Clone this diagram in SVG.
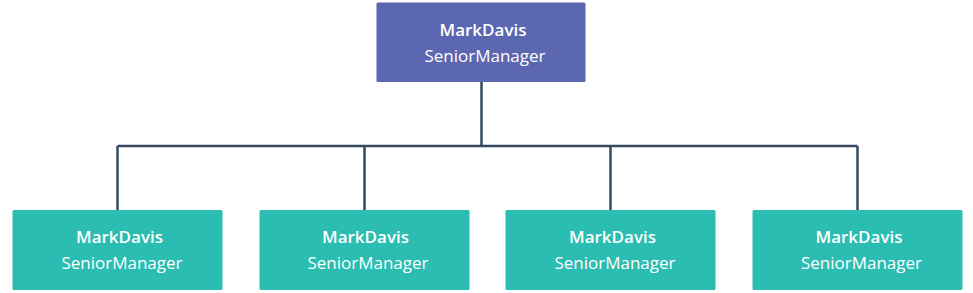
<svg xmlns="http://www.w3.org/2000/svg" width="973" height="293" viewBox="0 0 973 293">
<style>
.top{fill:#5b67b0}
.child{fill:#2bbdb1}
.name{font-family:"Open Sans","Noto Sans",sans-serif;font-weight:600;font-size:17px;fill:#fff;text-anchor:middle}
.role{font-family:"Open Sans","Noto Sans",sans-serif;font-size:17px;fill:#fff;text-anchor:middle}
.conn{fill:none;stroke:#34495e;stroke-width:2.5}
</style>
<rect width="973" height="293" fill="#fff"/>
<g id="connectors">
<path class="conn" d="M481.5 82V146M117.5 146H857.5M117.5 146V211M364.5 146V211M610.5 146V211M857.5 146V211"/>
</g>
<g id="n0"><rect class="top" x="376.5" y="2.5" width="209" height="79.5" rx="1.5"/><text class="name" x="483" y="36">MarkDavis</text><text class="role" x="485" y="61.5">SeniorManager</text></g>
<g id="n1"><rect class="child" x="12.5" y="210" width="210" height="80" rx="1.5"/><text class="name" x="119.5" y="243">MarkDavis</text><text class="role" x="122" y="268.5">SeniorManager</text></g>
<g id="n2"><rect class="child" x="259.5" y="210" width="210" height="80" rx="1.5"/><text class="name" x="365.5" y="243">MarkDavis</text><text class="role" x="368" y="268.5">SeniorManager</text></g>
<g id="n3"><rect class="child" x="505.5" y="210" width="210" height="80" rx="1.5"/><text class="name" x="612.5" y="243">MarkDavis</text><text class="role" x="615" y="268.5">SeniorManager</text></g>
<g id="n4"><rect class="child" x="752.5" y="210" width="210" height="80" rx="1.5"/><text class="name" x="859" y="243">MarkDavis</text><text class="role" x="861.5" y="268.5">SeniorManager</text></g>
</svg>
